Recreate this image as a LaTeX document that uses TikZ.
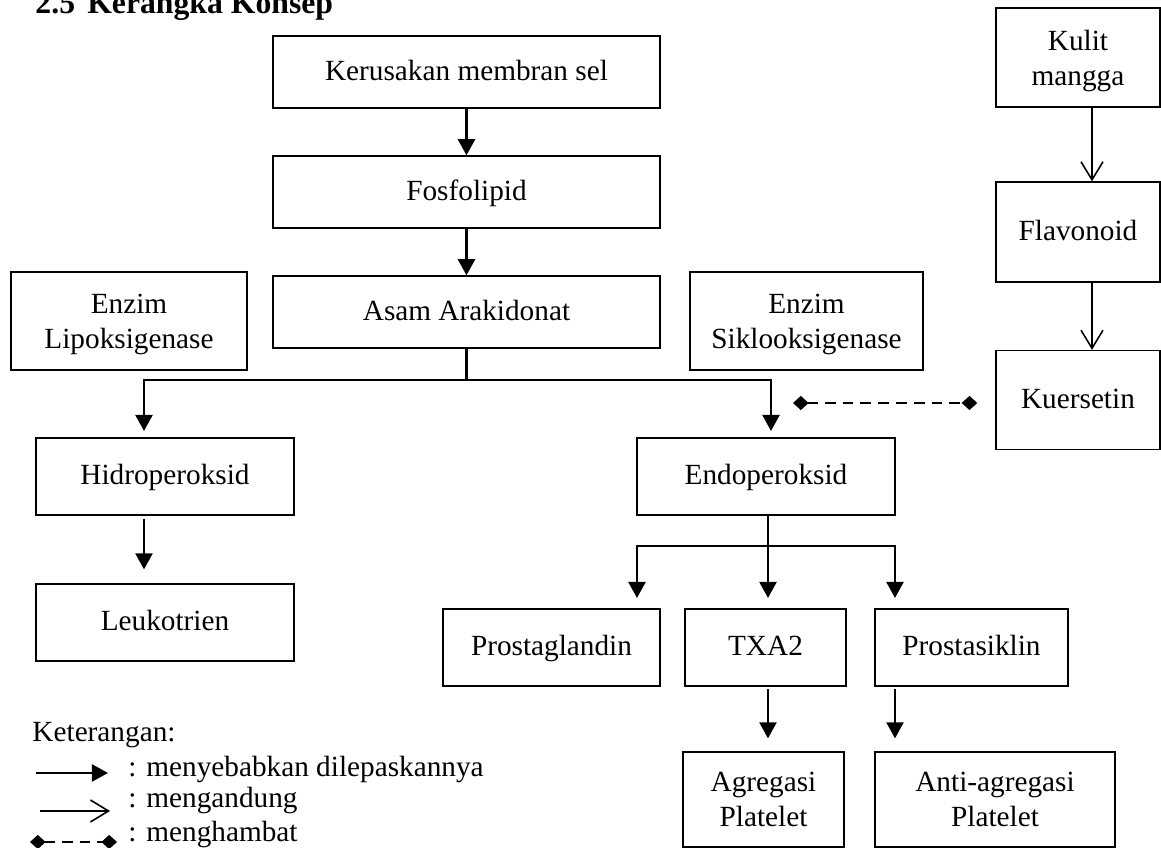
\documentclass[tikz,border=0pt]{standalone}
\usepackage{fontspec}
\setmainfont{Liberation Serif}
\usetikzlibrary{arrows.meta,calc}

\newcommand{\pxu}{0.41pt}
\tikzset{
  box/.style={draw, line width=0.55pt, inner sep=2pt, align=center,
    font=\fontsize{12pt}{14.3pt}\selectfont},
  single/.style={text height=0.72em, text depth=0.06em},
  double/.style={text depth=0pt},
  flow/.style={line width=0.9pt, -{Triangle[width=7pt,length=6.6pt]}},
  trunk/.style={line width=0.9pt},
  contains/.style={line width=0.65pt, -{Straight Barb[width=9pt,length=7.4pt]}},
  inhibit/.style={line width=0.9pt, dash pattern=on 4.4pt off 2.9pt,
    {Diamond[width=5.8pt,length=6.4pt]}-{Diamond[width=5.8pt,length=6.4pt]}},
  keytext/.style={anchor=base west, inner sep=0pt,
    font=\fontsize{12pt}{14.3pt}\selectfont}
}

\begin{document}
\begin{tikzpicture}[x=\pxu,y=-\pxu]
  \clip (0,0) rectangle (1161,848);

  \node[anchor=base west, inner sep=0pt,
    font=\fontsize{13pt}{15pt}\selectfont\bfseries] (title) at (35,13.5)
    {2.5\hspace{5pt}Kerangka Konsep};

  % main chain
  \node[box, single, minimum width=387*\pxu, minimum height=72*\pxu] (kerusakan)
    at (466.5,72) {Kerusakan membran sel};
  \node[box, single, minimum width=387*\pxu, minimum height=72*\pxu] (fosfolipid)
    at (466.5,192) {Fosfolipid};
  \node[box, single, minimum width=387*\pxu, minimum height=72*\pxu] (asam)
    at (466.5,312) {Asam Arakidonat};
  \node[box, double, minimum width=236*\pxu, minimum height=98*\pxu] (lipo)
    at (129,321) {Enzim\\Lipoksigenase};
  \node[box, double, minimum width=233*\pxu, minimum height=98*\pxu] (siklo)
    at (806.5,321) {Enzim\\Siklooksigenase};

  % mango column
  \node[box, double, minimum width=164*\pxu, minimum height=99*\pxu] (kulit)
    at (1078,57.5) {Kulit\\mangga};
  \node[box, single, minimum width=164*\pxu, minimum height=100*\pxu] (flavonoid)
    at (1078,232) {Flavonoid};
  \node[box, single, minimum width=164*\pxu, minimum height=99*\pxu] (kuersetin)
    at (1078,400) {Kuersetin};

  % products
  \node[box, single, minimum width=258*\pxu, minimum height=77*\pxu] (hidro)
    at (165,476.5) {Hidroperoksid};
  \node[box, single, minimum width=258*\pxu, minimum height=77*\pxu] (endo)
    at (766,476.5) {Endoperoksid};
  \node[box, single, minimum width=258*\pxu, minimum height=77*\pxu] (leuko)
    at (165,622.5) {Leukotrien};
  \node[box, single, minimum width=217*\pxu, minimum height=77*\pxu] (prosta)
    at (551.5,647.5) {Prostaglandin};
  \node[box, single, minimum width=161*\pxu, minimum height=77*\pxu] (txa)
    at (765.5,647.5) {TXA2};
  \node[box, single, minimum width=193*\pxu, minimum height=77*\pxu] (prostas)
    at (971.5,647.5) {Prostasiklin};
  \node[box, double, minimum width=161*\pxu, minimum height=95*\pxu] (agregasi)
    at (763.5,799.5) {Agregasi\\Platelet};
  \node[box, double, minimum width=240*\pxu, minimum height=95*\pxu] (anti)
    at (995,799.5) {Anti-agregasi\\Platelet};

  \coordinate (split1) at (466.5,380);
  \coordinate (hidroin) at (144,431);
  \coordinate (endoin) at (771,431);
  \coordinate (split2) at (768,546);
  \coordinate (prostain) at (637,598);
  \coordinate (txain) at (768,598);
  \coordinate (prostasin) at (895,598);
  \coordinate (herbline) at (1092,0);
  \coordinate (blockend) at (793,403);

  \draw[flow] (kerusakan) -- (fosfolipid);
  \draw[flow] (fosfolipid) -- (asam);
  \draw[trunk] (asam.south) -- (split1);
  \draw[flow] (split1) -| (hidroin);
  \draw[flow] (split1) -| (endoin);
  \draw[flow, shorten <=1.2pt, shorten >=5.7pt]
    (hidro.south -| hidroin) -- (leuko.north -| hidroin);

  \draw[trunk] (endo.south -| split2) -- (split2);
  \draw[flow] (split2) -| (prostain);
  \draw[flow] (split2) -- (txain);
  \draw[flow] (split2) -| (prostasin);
  \draw[flow, shorten <=1pt, shorten >=5.3pt]
    (txa.south -| txain) -- (agregasi.north -| txain);
  \draw[flow, shorten <=1pt, shorten >=5.3pt]
    (prostas.south -| prostasin) -- (anti.north -| prostasin);

  \draw[contains] (kulit.south -| herbline) -- (flavonoid.north -| herbline);
  \draw[contains] (flavonoid.south -| herbline) -- (kuersetin.north -| herbline);
  \draw[inhibit, shorten >=7.4pt] (blockend) -- (kuersetin.west |- blockend);

  % keterangan
  \node[keytext] (keterangan) at (32,742) {Keterangan:};
  \node[keytext] (key1) at (128,777) {: menyebabkan dilepaskannya};
  \node[keytext] (key2) at (128,808) {: mengandung};
  \node[keytext] (key3) at (128,842) {: menghambat};
  \draw[flow] ($(key1.base west)+(-92,-4)$) -- ($(key1.base west)+(-20,-4)$);
  \draw[contains] ($(key2.base west)+(-88,3)$) -- ($(key2.base west)+(-18,3)$);
  \draw[inhibit] ($(key3.base west)+(-98,0)$) -- ($(key3.base west)+(-11,0)$);
\end{tikzpicture}
\end{document}
